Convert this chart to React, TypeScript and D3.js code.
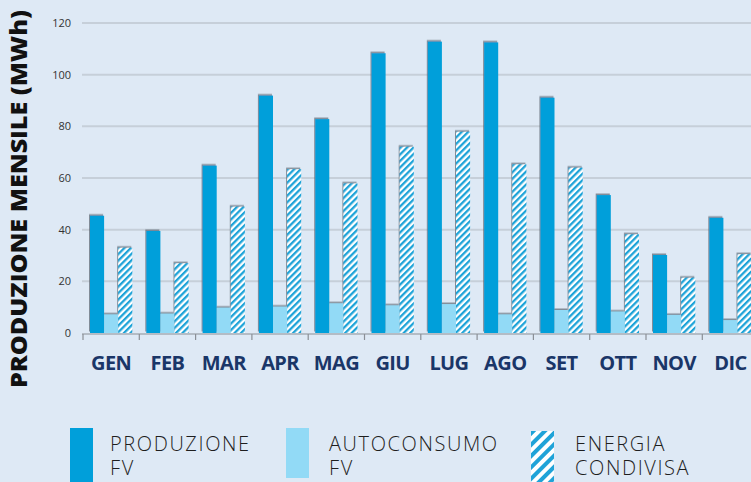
import { useEffect, useRef } from "react";
import * as d3 from "d3";

const months = ["GEN", "FEB", "MAR", "APR", "MAG", "GIU", "LUG", "AGO", "SET", "OTT", "NOV", "DIC"];
const produzione = [45.4, 39.5, 64.8, 91.9, 82.8, 108.3, 112.8, 112.5, 91.1, 53.4, 30.2, 44.6];
const autoconsumo = [7.2, 7.5, 9.8, 10.2, 11.5, 10.7, 11.2, 7.2, 8.9, 8.3, 7.0, 5.0];
const condivisa = [33, 27, 48.9, 63.4, 57.9, 72.1, 77.9, 65.3, 64, 38.2, 21.4, 30.5];
const yTicks = [0, 20, 40, 60, 80, 100, 120];
const seriesKeys = ["prod", "auto", "cond"];
const legendLabels = [["PRODUZIONE", "FV"], ["AUTOCONSUMO", "FV"], ["ENERGIA", "CONDIVISA"]];

const W = 751;
const H = 482;
const DARK = "#009fda";
const LIGHT = "#92daf6";
const STRIPE = "#1fa3d8";

export default function App() {
	const svgRef = useRef<SVGSVGElement>(null);

	useEffect(() => {
		if (!svgRef.current) return;
		const svg = d3.select(svgRef.current);
		svg.selectAll("*").remove();

		const defs = svg.append("defs");
		const mkHatch = (id: string, size: number, stroke: number) => {
			const p = defs
				.append("pattern")
				.attr("id", id)
				.attr("patternUnits", "userSpaceOnUse")
				.attr("width", size)
				.attr("height", size)
				.attr("patternTransform", "rotate(45)");
			p.append("rect").attr("width", size).attr("height", size).attr("fill", "#fff");
			p.append("rect").attr("width", stroke).attr("height", size).attr("fill", STRIPE);
		};
		mkHatch("hatch", 4.6, 2.3);
		mkHatch("hatchBig", 8, 4);

		const f = defs.append("filter").attr("id", "shadow").attr("x", "-30%").attr("y", "-10%").attr("width", "160%").attr("height", "120%");
		f.append("feDropShadow")
			.attr("dx", -1)
			.attr("dy", -1.5)
			.attr("stdDeviation", 0.7)
			.attr("flood-color", "#5a6570")
			.attr("flood-opacity", 0.7);

		svg.append("rect").attr("width", W).attr("height", H).attr("fill", "#dee9f5");

		const y = d3.scaleLinear().domain([0, 120]).range([333, 23]);
		const x = d3.scaleBand().domain(months).range([83, 83 + 12 * 56.3]).padding(0);
		const xSub = d3.scaleBand().domain(seriesKeys).range([7, x.bandwidth() - 7]).padding(0);

		// grid
		svg.append("g")
			.selectAll("line")
			.data(yTicks.filter((t) => t > 0))
			.join("line")
			.attr("x1", 82)
			.attr("x2", W)
			.attr("y1", (d) => y(d))
			.attr("y2", (d) => y(d))
			.attr("stroke", "#c6cfd9")
			.attr("stroke-width", 2);

		svg.append("g")
			.selectAll("text")
			.data(yTicks)
			.join("text")
			.attr("x", 71)
			.attr("y", (d) => y(d) + 4)
			.attr("text-anchor", "end")
			.attr("font-family", "'Open Sans', sans-serif")
			.attr("font-size", 11)
			.attr("fill", "#333")
			.text((d) => d);

		// bars
		const values: Record<string, number[]> = { prod: produzione, auto: autoconsumo, cond: condivisa };
		const fills: Record<string, string> = { prod: DARK, auto: LIGHT, cond: "url(#hatch)" };
		const bars = svg.append("g").attr("filter", "url(#shadow)");
		seriesKeys.forEach((k) => {
			bars.append("g")
				.selectAll("rect")
				.data(months)
				.join("rect")
				.attr("x", (m) => (x(m) ?? 0) + (xSub(k) ?? 0))
				.attr("width", xSub.bandwidth())
				.attr("y", (_, i) => y(values[k][i]))
				.attr("height", (_, i) => y(0) - y(values[k][i]))
				.attr("fill", fills[k]);
		});

		// axis
		svg.append("line")
			.attr("x1", 82)
			.attr("x2", W)
			.attr("y1", 334)
			.attr("y2", 334)
			.attr("stroke", "#8a8f96")
			.attr("stroke-width", 1.2);
		svg.append("g")
			.selectAll("line")
			.data(months)
			.join("line")
			.attr("x1", (m) => x(m) ?? 0)
			.attr("x2", (m) => x(m) ?? 0)
			.attr("y1", 334)
			.attr("y2", 340)
			.attr("stroke", "#8a8f96")
			.attr("stroke-width", 1.2);

		svg.append("g")
			.selectAll("text")
			.data(months)
			.join("text")
			.attr("x", (m) => (x(m) ?? 0) + x.bandwidth() / 2)
			.attr("y", 370)
			.attr("text-anchor", "middle")
			.attr("font-family", "'Open Sans', sans-serif")
			.attr("font-weight", 700)
			.attr("font-size", 20)
			.attr("letter-spacing", -0.6)
			.attr("fill", "#1a3668")
			.text((d) => d);

		// y title
		svg.append("text")
			.attr("transform", "translate(27,199) rotate(-90)")
			.attr("text-anchor", "middle")
			.attr("font-family", "'Open Sans', sans-serif")
			.attr("font-weight", 800)
			.attr("font-size", 22)
			.attr("textLength", 378)
			.attr("lengthAdjust", "spacingAndGlyphs")
			.attr("fill", "#111")
			.text("PRODUZIONE MENSILE (MWh)");

		// legend
		const legendX = [70, 286, 531];
		const textOffset = [40, 43, 44];
		const legendFill = [DARK, LIGHT, "url(#hatchBig)"];
		const lg = svg.append("g");
		legendX.forEach((lx, i) => {
			lg.append("rect")
				.attr("x", lx)
				.attr("y", i === 2 ? 431 : 428)
				.attr("width", 23)
				.attr("height", i === 1 ? 50 : 54)
				.attr("fill", legendFill[i]);
			legendLabels[i].forEach((line, j) => {
				lg.append("text")
					.attr("x", lx + textOffset[i])
					.attr("y", 451 + j * 24)
					.attr("font-family", "'Open Sans', sans-serif")
					.attr("font-weight", 300)
					.attr("font-size", 20)
					.attr("letter-spacing", 1.6)
					.attr("fill", "#1e1e1e")
					.text(line);
			});
		});
	}, []);

	return (
		<svg
			ref={svgRef}
			width={W}
			height={H}
			style={{ position: "absolute", left: 0, top: 0, display: "block" }}
		/>
	);
}
